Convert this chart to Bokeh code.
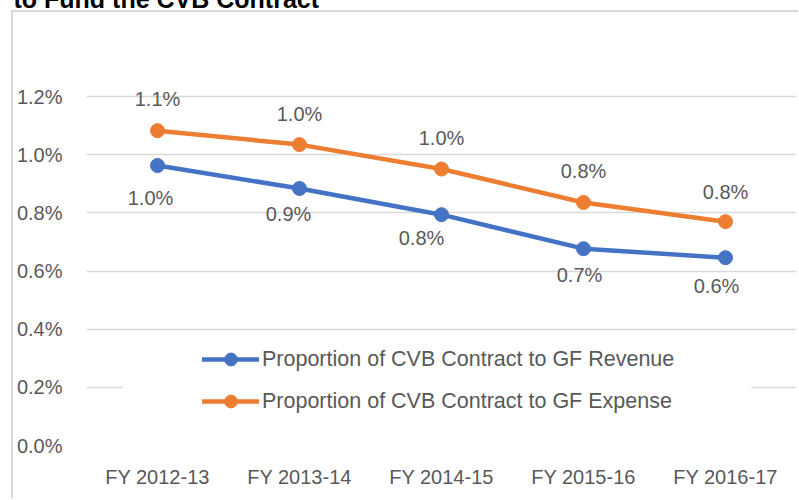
from bokeh.plotting import figure
from bokeh.models import (FactorRange, Range1d, FixedTicker, PrintfTickFormatter,
                          Legend, LegendItem, BoxAnnotation, ColumnDataSource, Title)
from bokeh.embed import file_html
from bokeh.resources import INLINE
from bokeh.core.properties import value

# ---- data ----
categories = ["FY 2012-13", "FY 2013-14", "FY 2014-15", "FY 2015-16", "FY 2016-17"]
revenue_pct = [0.963, 0.884, 0.794, 0.677, 0.646]
expense_pct = [1.083, 1.035, 0.951, 0.836, 0.770]
y_ticks = [0.0, 0.2, 0.4, 0.6, 0.8, 1.0, 1.2]
series_names = ["Proportion of CVB Contract to GF Revenue",
                "Proportion of CVB Contract to GF Expense"]
title_text = "to Fund the CVB Contract"

# ---- style ----
BLUE = "#4472C4"
ORANGE = "#ED7D31"
GRAY = "#595959"
GRID = "#D9D9D9"
FONT = "Liberation Sans"

# label offsets (pixels) relative to each point
rev_dx = [-7, -11, -20, -4, -9]
rev_dy = [32, 25, 23, 26, 28]
exp_dx = [0, 0, 0, 0, 0]
exp_dy = [-32, -31, -31, -31, -30]

W, H = 798, 498
p = figure(width=W, height=H, x_range=FactorRange(*categories), y_range=Range1d(0, 1.4),
           output_backend="svg", toolbar_location=None,
           min_border_left=86, min_border_right=2, min_border_top=38, min_border_bottom=H - 445)
# chart-area border (left and top edges), drawn behind a transparent canvas border
p.styles = {
    "background-color": "white",
    "background-image": "linear-gradient(#D9D9D9, #D9D9D9), linear-gradient(#D9D9D9, #D9D9D9)",
    "background-position": "11px 10px, 11px 10px",
    "background-size": "2px 100%, 100% 2px",
    "background-repeat": "no-repeat",
}
p.outline_line_color = None
p.background_fill_color = "white"
p.border_fill_color = None

# chart title (cut off at the top edge, as in the source) with a blank spacer below it
p.title.text = title_text
p.title.align = "left"
p.title.vertical_align = "top"
p.title.offset = -73
p.title.standoff = -34
p.title.text_font = FONT
p.title.text_font_size = "25px"
p.title.text_font_style = "bold"
p.title.text_color = "#000000"
spacer_title = Title(text=" ", standoff=7, text_font=FONT, text_font_size="25px",
                     text_font_style="bold")
p.add_layout(spacer_title, "above")

# axes
p.xaxis.axis_line_color = None
p.xaxis.major_tick_line_color = None
p.xaxis.minor_tick_line_color = None
p.xaxis.major_label_text_font = FONT
p.xaxis.major_label_text_font_size = "20px"
p.xaxis.major_label_text_color = GRAY
p.xaxis.major_label_standoff = 14

p.yaxis.axis_line_color = None
p.yaxis.major_tick_line_color = None
p.yaxis.minor_tick_line_color = None
p.yaxis.ticker = FixedTicker(ticks=y_ticks)
p.yaxis.formatter = PrintfTickFormatter(format="%.1f%%")
p.yaxis.major_label_text_font = FONT
p.yaxis.major_label_text_font_size = "20px"
p.yaxis.major_label_text_color = GRAY
p.yaxis.major_label_standoff = 18

p.xgrid.grid_line_color = None
p.ygrid.grid_line_color = GRID
p.ygrid.grid_line_width = 1.5

# series
r1 = p.line(categories, revenue_pct, line_color=BLUE, line_width=4.5,
            line_cap="round", line_join="round")
s1 = p.scatter(categories, revenue_pct, size=14, fill_color=BLUE, line_color=BLUE)
r2 = p.line(categories, expense_pct, line_color=ORANGE, line_width=4.5,
            line_cap="round", line_join="round")
s2 = p.scatter(categories, expense_pct, size=14, fill_color=ORANGE, line_color=ORANGE)

# data labels
rev_src = ColumnDataSource(dict(x=categories, y=revenue_pct,
                                t=["%.1f%%" % v for v in revenue_pct], dx=rev_dx, dy=rev_dy))
exp_src = ColumnDataSource(dict(x=categories, y=expense_pct,
                                t=["%.1f%%" % v for v in expense_pct], dx=exp_dx, dy=exp_dy))
for src in (rev_src, exp_src):
    p.text(x="x", y="y", text="t", x_offset="dx", y_offset="dy", source=src,
           text_align="center", text_baseline="middle", text_font=value(FONT),
           text_font_size="20px", text_color=GRAY)

# white backing of the legend (hides the gridline behind it)
mask = BoxAnnotation(left=0.254, right=4.683, top=0.368, bottom=0.069,
                     fill_color="white", fill_alpha=1.0, line_color=None)
p.add_layout(mask)

legend = Legend(items=[LegendItem(label=series_names[0], renderers=[r1, s1]),
                       LegendItem(label=series_names[1], renderers=[r2, s2])],
                location=(116, 28), orientation="vertical",
                padding=10, margin=0, spacing=10,
                glyph_width=57, glyph_height=32, label_height=30, label_standoff=3,
                label_text_font=FONT, label_text_font_size="21.5px",
                label_text_color=GRAY, border_line_color=None,
                background_fill_alpha=0.0)
p.add_layout(legend)

open("out.html", "w").write(file_html(p, INLINE))
